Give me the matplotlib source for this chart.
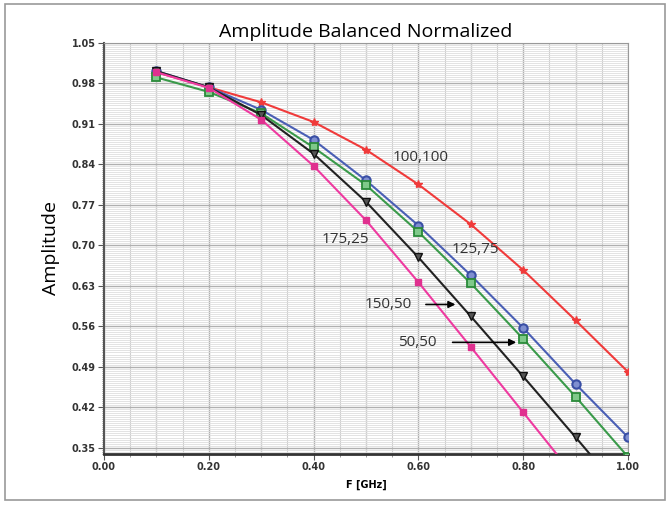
import matplotlib.pyplot as plt
import numpy as np
from matplotlib.patches import Rectangle
from matplotlib.ticker import MultipleLocator, FormatStrFormatter

# frequency points (GHz)
freq = [0.1, 0.2, 0.3, 0.4, 0.5, 0.6, 0.7, 0.8, 0.9, 1.0]

# amplitude per case
amp_100_100 = [0.999, 0.973, 0.947, 0.913, 0.865, 0.805, 0.736, 0.657, 0.570, 0.481]
amp_125_75 = [1.001, 0.973, 0.934, 0.882, 0.812, 0.734, 0.648, 0.557, 0.460, 0.368]
amp_50_50 = [0.990, 0.965, 0.928, 0.869, 0.804, 0.723, 0.634, 0.538, 0.438, 0.334]
amp_150_50 = [1.001, 0.973, 0.925, 0.858, 0.775, 0.679, 0.577, 0.473, 0.368, 0.261]
amp_175_25 = [0.999, 0.972, 0.917, 0.837, 0.743, 0.636, 0.524, 0.411, 0.298, 0.186]

y_ticks = [0.35, 0.42, 0.49, 0.56, 0.63, 0.70, 0.77, 0.84, 0.91, 0.98, 1.05]
x_ticks = [0.0, 0.2, 0.4, 0.6, 0.8, 1.0]

fig = plt.figure(figsize=(6.7, 5.08), dpi=100)
ax = fig.add_axes([0.1552, 0.1063, 0.7821, 0.8096])

# outer frame around the whole picture
fig.patches.append(Rectangle((0.008, 0.015), 0.984, 0.978, transform=fig.transFigure,
                             fill=False, edgecolor='#999999', linewidth=1.2))

# dense grid like the original tool
ax.xaxis.set_minor_locator(MultipleLocator(0.05))
ax.yaxis.set_minor_locator(MultipleLocator(0.0035))
ax.grid(which='minor', axis='y', color='#dedede', linewidth=0.6)
ax.grid(which='minor', axis='x', color='#cfcfcf', linewidth=0.8)
ax.grid(which='major', color='#b0b0b0', linewidth=1.0)
for xv in np.arange(0.1, 1.0, 0.2):
    ax.axvline(xv, color='#c4c4c4', linewidth=0.9, zorder=0.5)

ax.plot(freq, amp_100_100, color='#f03a3a', lw=1.5, marker='*', ms=6, mfc='#f03a3a', mec='#f03a3a', zorder=3)
ax.plot(freq, amp_125_75, color='#4a5fb5', lw=1.5, marker='o', ms=6, mfc='#7f8fd0', mec='#3a4fa5', mew=1.5, zorder=3)
ax.plot(freq, amp_50_50, color='#3a9a4a', lw=1.5, marker='s', ms=5.5, mfc='#7fc98a', mec='#2a8a3a', mew=1.3, zorder=3)
ax.plot(freq, amp_150_50, color='#222222', lw=1.5, marker='v', ms=6, mfc='#555555', mec='#111111', zorder=3)
ax.plot(freq, amp_175_25, color='#ee3aa0', lw=1.5, marker='s', ms=4.5, mfc='#e0308f', mec='#e0308f', zorder=3)

ax.set_xlim(0, 1.0)
ax.set_ylim(0.339, 1.05)
ax.set_xticks(x_ticks)
ax.set_yticks(y_ticks)
ax.xaxis.set_major_formatter(FormatStrFormatter('%.2f'))
ax.yaxis.set_major_formatter(FormatStrFormatter('%.2f'))
ax.tick_params(axis='both', which='major', labelsize=7, length=4, color='#555555', pad=2)
ax.tick_params(axis='x', which='minor', length=2, color='#888888')
ax.tick_params(axis='y', which='minor', length=1.5, color='#777777')
for lab in ax.get_xticklabels() + ax.get_yticklabels():
    lab.set_fontweight('bold')
    lab.set_color('#333333')

ax.spines['bottom'].set_linewidth(2.0)
ax.spines['bottom'].set_color('#333333')
ax.spines['left'].set_linewidth(1.5)
ax.spines['left'].set_color('#555555')
ax.spines['top'].set_color('#999999')
ax.spines['right'].set_color('#999999')

ax.set_title('Amplitude Balanced Normalized', fontsize=14, family='Open Sans', pad=4)
ax.set_ylabel('Amplitude', fontsize=14, family='Open Sans', labelpad=8)
ax.set_xlabel('F [GHz]', fontsize=7, fontweight='bold', labelpad=5)

ann = dict(fontsize=11, family='Open Sans', color='#333333', va='center')
ax.text(0.55, 0.852, '100,100', **ann)
ax.text(0.664, 0.692, '125,75', **ann)
ax.text(0.416, 0.709, '175,25', **ann)
ax.text(0.498, 0.5975, '150,50', **ann)
ax.text(0.561, 0.532, '50,50', **ann)
ax.annotate('', xy=(0.676, 0.5975), xytext=(0.609, 0.5975),
            arrowprops=dict(arrowstyle='-|>', color='black', lw=1.2, mutation_scale=10))
ax.annotate('', xy=(0.792, 0.532), xytext=(0.66, 0.532),
            arrowprops=dict(arrowstyle='-|>', color='black', lw=1.2, mutation_scale=10))

fig.savefig('out.png', dpi=100)
